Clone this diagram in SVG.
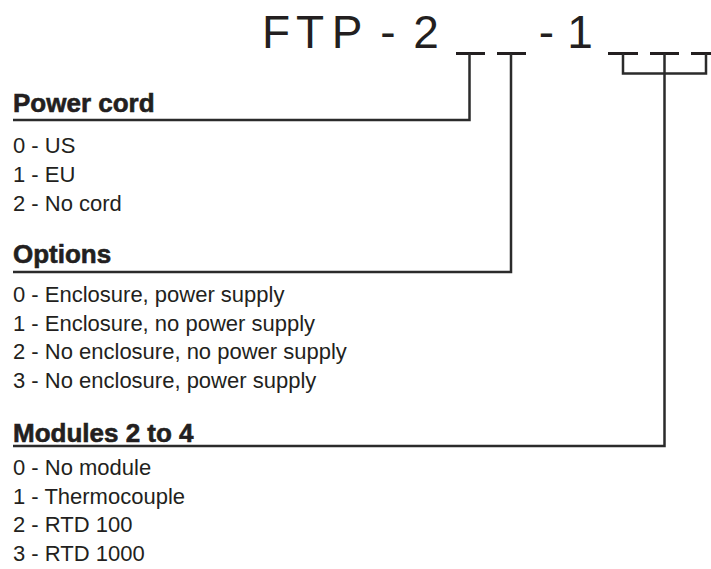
<svg xmlns="http://www.w3.org/2000/svg" width="711" height="569" viewBox="0 0 711 569">
<style>
.title{font-family:"Liberation Sans",Arial,sans-serif;font-size:46px;fill:#231f20;text-anchor:middle}
.head{font-family:"Liberation Sans",Arial,sans-serif;font-size:26px;font-weight:700;fill:#231f20;stroke:#231f20;stroke-width:0.6}
.item{font-family:"Liberation Sans",Arial,sans-serif;font-size:22px;fill:#231f20}
.ln{stroke:#2b2b2b;stroke-width:2.5;fill:none}
.us{stroke:#231f20;stroke-width:3;fill:none}
</style>
<rect width="711" height="569" fill="#ffffff"/>
<g id="code">
<text class="title" x="276" y="48">F</text>
<text class="title" x="310" y="48">T</text>
<text class="title" x="347" y="48">P</text>
<text class="title" x="388" y="48">-</text>
<text class="title" x="426" y="48">2</text>
<text class="title" x="546.5" y="48">-</text>
<text class="title" x="580" y="48">1</text>
<line class="us" x1="456" y1="53.5" x2="485" y2="53.5"/>
<line class="us" x1="497" y1="53.5" x2="526" y2="53.5"/>
<line class="us" x1="608" y1="53.5" x2="638" y2="53.5"/>
<line class="us" x1="650" y1="53.5" x2="679" y2="53.5"/>
<line class="us" x1="691" y1="53.5" x2="711" y2="53.5"/>
</g>
<g id="connectors">
<polyline class="ln" points="469.5,53.5 469.5,120 13,120"/>
<polyline class="ln" points="511,53.5 511,272 13,272"/>
<polyline class="ln" points="623,53.5 623,73.5 706,73.5 706,53.5"/>
<polyline class="ln" points="664.5,53.5 664.5,446 13,446"/>
</g>
<g id="power-cord">
<text class="head" x="13" y="112">Power cord</text>
<text class="item" x="13" y="153">0 - US</text>
<text class="item" x="13" y="182">1 - EU</text>
<text class="item" x="13" y="211">2 - No cord</text>
</g>
<g id="options">
<text class="head" x="13" y="263">Options</text>
<text class="item" x="13" y="302">0 - Enclosure, power supply</text>
<text class="item" x="13" y="331">1 - Enclosure, no power supply</text>
<text class="item" x="13" y="359">2 - No enclosure, no power supply</text>
<text class="item" x="13" y="388">3 - No enclosure, power supply</text>
</g>
<g id="modules">
<text class="head" x="13" y="442">Modules 2 to 4</text>
<text class="item" x="13" y="475">0 - No module</text>
<text class="item" x="13" y="504">1 - Thermocouple</text>
<text class="item" x="13" y="532">2 - RTD 100</text>
<text class="item" x="13" y="561">3 - RTD 1000</text>
</g>
</svg>
